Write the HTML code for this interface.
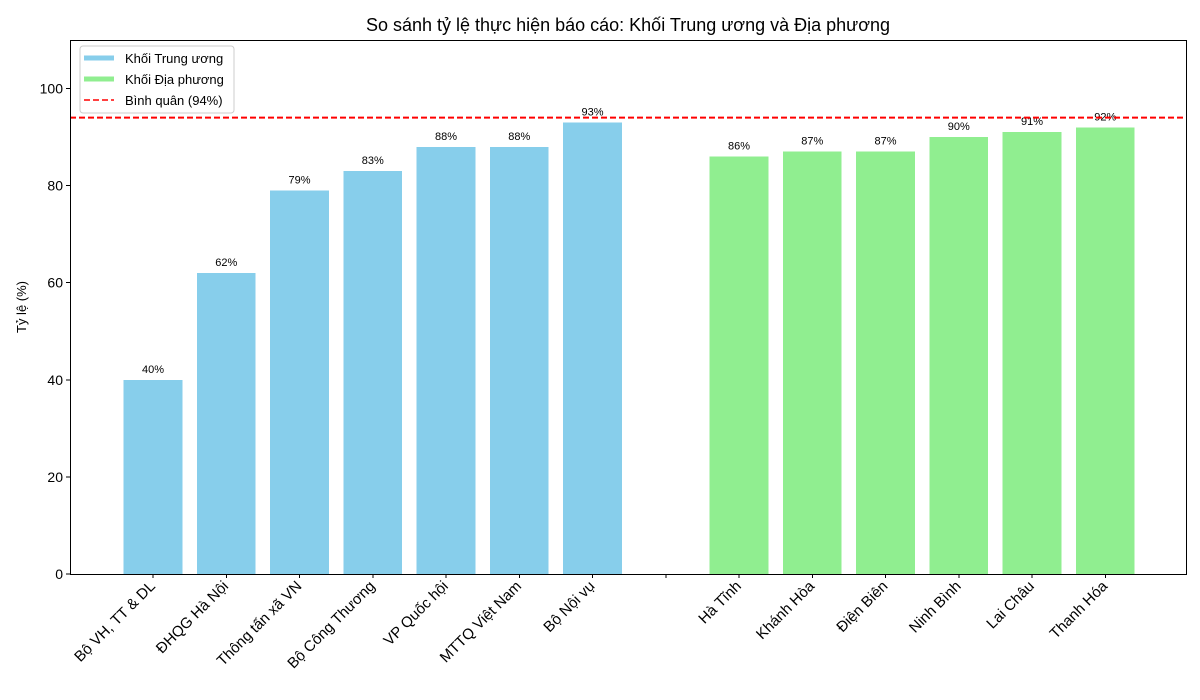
<!DOCTYPE html>
<html><head><meta charset="utf-8"><style>
html,body{margin:0;padding:0;background:#fff;}
svg{display:block;font-family:"Liberation Sans","DejaVu Sans",sans-serif;}
</style></head><body>
<svg id="chart" width="1200" height="700"></svg>
<script>
const categories=["Bộ VH, TT & DL","ĐHQG Hà Nội","Thông tấn xã VN","Bộ Công Thương","VP Quốc hội","MTTQ Việt Nam","Bộ Nội vụ","","Hà Tĩnh","Khánh Hòa","Điện Biên","Ninh Bình","Lai Châu","Thanh Hóa"];
const values=[40,62,79,83,88,88,93,null,86,87,87,90,91,92];
const groups=["central","central","central","central","central","central","central","","local","local","local","local","local","local"];
const yTicks=[0,20,40,60,80,100];
const average=94;

const NS="http://www.w3.org/2000/svg";
const svg=document.getElementById('chart');
const L=70,R=1186,T=40,B=574,yMax=110;
const step=73.25,x0=153;
const xs=i=>x0+i*step;
const ys=v=>B-(v/yMax)*(B-T);
function el(tag,attrs,text){const e=document.createElementNS(NS,tag);for(const k in attrs)e.setAttribute(k,attrs[k]);if(text!==undefined)e.textContent=text;svg.appendChild(e);return e;}

let t=el('text',{x:628,y:31,'text-anchor':'middle','font-size':18,fill:'#000'},'So sánh tỷ lệ thực hiện báo cáo: Khối Trung ương và Địa phương');



const bw=step*0.8;
values.forEach((v,i)=>{
  if(v===null)return;
  const r=el('rect',{x:xs(i)-bw/2,y:ys(v),width:bw,height:B-ys(v),fill:groups[i]==='central'?'#87ceeb':'#90ee90','shape-rendering':'crispEdges'});
  
  
  const lb=el('text',{x:xs(i),y:ys(v)-7,'text-anchor':'middle','font-size':11,fill:'#000'},v+'%');
  
  
});

const avg=el('line',{x1:L,x2:R,y1:ys(average),y2:ys(average),stroke:'#ff0000','stroke-width':2,'stroke-dasharray':'6,3'});



const frame=el('rect',{x:L+0.5,y:T+0.5,width:R-L,height:B-T,fill:'none',stroke:'#000','stroke-width':1,'shape-rendering':'crispEdges'});



yTicks.forEach(v=>{
  el('line',{x1:L-4,x2:L,y1:ys(v),y2:ys(v),stroke:'#000','shape-rendering':'crispEdges'});
  const tx=el('text',{x:L-7,y:ys(v)+5,'text-anchor':'end','font-size':14,fill:'#000'},v);
  
  
});
categories.forEach((c,i)=>{
  el('line',{x1:xs(i),x2:xs(i),y1:B,y2:B+4,stroke:'#000','shape-rendering':'crispEdges'});
  const tx=el('text',{x:xs(i)+3,y:B+13,'text-anchor':'end','font-size':15,fill:'#000',transform:`rotate(-45 ${xs(i)+3} ${B+13})`},c);
  
  
});
const yt=el('text',{x:26,y:307,'text-anchor':'middle','font-size':13,fill:'#000',transform:'rotate(-90 26 307)'},'Tỷ lệ (%)');



const lg=el('rect',{x:80,y:46,width:154,height:67,rx:3,fill:'#fff','fill-opacity':0.8,stroke:'#ccc'});


const items=[['Khối Trung ương','#87ceeb',false],['Khối Địa phương','#90ee90',false],['Bình quân (94%)','#ff0000',true]];
items.forEach((it,k)=>{
  const y=58+k*21;
  if(it[2]) el('line',{x1:84,x2:114,y1:y,y2:y,stroke:it[1],'stroke-width':1.5,'stroke-dasharray':'6,3'});
  else el('line',{x1:84,x2:114,y1:y,y2:y,stroke:it[1],'stroke-width':5});
  const tx=el('text',{x:125,y:y+5,'font-size':13,fill:'#000'},it[0]);
  
  
});
</script>
</body></html>
